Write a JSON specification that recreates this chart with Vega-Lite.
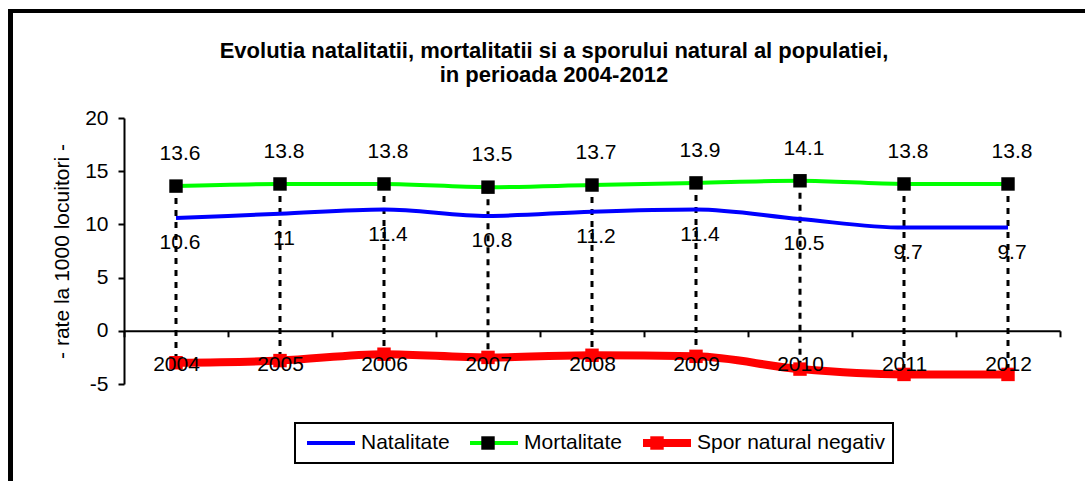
{
  "$schema": "https://vega.github.io/schema/vega-lite/v6.json",
  "width": 936,
  "height": 266,
  "autosize": {"type": "none"},
  "padding": {"left": 124, "top": 118, "right": 25, "bottom": 97},
  "background": "white",
  "title": {
    "text": ["Evolutia natalitatii, mortalitatii si a sporului natural al populatiei,", "in perioada 2004-2012"],
    "fontSize": 22,
    "font": "Liberation Sans",
    "fontWeight": "bold",
    "color": "black",
    "anchor": "middle",
    "frame": "group",
    "dx": -38,
    "offset": -78,
    "lineHeight": 24
  },
  "data": {
    "values": [
      {"year": 2004, "Natalitate": 10.6, "Mortalitate": 13.6, "Spor natural negativ": -3.0},
      {"year": 2005, "Natalitate": 11, "Mortalitate": 13.8, "Spor natural negativ": -2.8},
      {"year": 2006, "Natalitate": 11.4, "Mortalitate": 13.8, "Spor natural negativ": -2.2},
      {"year": 2007, "Natalitate": 10.8, "Mortalitate": 13.5, "Spor natural negativ": -2.5},
      {"year": 2008, "Natalitate": 11.2, "Mortalitate": 13.7, "Spor natural negativ": -2.3},
      {"year": 2009, "Natalitate": 11.4, "Mortalitate": 13.9, "Spor natural negativ": -2.4},
      {"year": 2010, "Natalitate": 10.5, "Mortalitate": 14.1, "Spor natural negativ": -3.6},
      {"year": 2011, "Natalitate": 9.7, "Mortalitate": 13.8, "Spor natural negativ": -4.1},
      {"year": 2012, "Natalitate": 9.7, "Mortalitate": 13.8, "Spor natural negativ": -4.1}
    ]
  },
  "layer": [
    {
      "mark": {"type": "rule", "strokeDash": [6, 6], "strokeWidth": 3, "color": "black"},
      "encoding": {
        "x": {
          "field": "year",
          "type": "quantitative",
          "scale": {"domain": [2003.5, 2012.5], "nice": false, "zero": false},
          "axis": {
            "orient": "bottom",
            "offset": -53.2,
            "values": [2003.5, 2004.5, 2005.5, 2006.5, 2007.5, 2008.5, 2009.5, 2010.5, 2011.5, 2012.5],
            "labelExpr": "datum.value > 2012 ? '' : '' + (datum.value + 0.5)",
            "labelOffset": 52,
            "tickSize": 6,
            "tickWidth": 2,
            "tickColor": "black",
            "domainColor": "black",
            "domainWidth": 2,
            "labelFontSize": 21,
            "labelFont": "Liberation Sans",
            "labelColor": "black",
            "labelPadding": 17,
            "labelOverlap": false,
            "labelFlush": false,
            "labelBound": false,
            "title": null,
            "grid": false,
            "zindex": 1
          }
        },
        "y": {
          "field": "Mortalitate",
          "type": "quantitative",
          "scale": {"domain": [-5, 20], "nice": false, "zero": false},
          "axis": {
            "values": [-5, 0, 5, 10, 15, 20],
            "labelExpr": "'' + datum.value",
            "tickSize": 6,
            "tickWidth": 2,
            "tickColor": "black",
            "domainColor": "black",
            "domainWidth": 2,
            "labelFontSize": 21,
            "labelFont": "Liberation Sans",
            "labelColor": "black",
            "labelPadding": 10,
            "labelOverlap": false,
            "labelFlush": false,
            "grid": false,
            "title": "- rate la 1000 locuitori -",
            "titleFontSize": 21,
            "titleFont": "Liberation Sans",
            "titleFontWeight": "normal",
            "titleColor": "black",
            "titlePadding": 12
          }
        },
        "y2": {"field": "Spor natural negativ"}
      }
    },
    {
      "transform": [{"fold": ["Natalitate", "Mortalitate", "Spor natural negativ"], "as": ["series", "value"]}],
      "mark": {"type": "line", "interpolate": "monotone"},
      "encoding": {
        "x": {"field": "year", "type": "quantitative"},
        "y": {"field": "value", "type": "quantitative"},
        "color": {
          "field": "series",
          "type": "nominal",
          "scale": {"domain": ["Natalitate", "Mortalitate", "Spor natural negativ"], "range": ["#0000ff", "#00ff00", "#ff0000"]},
          "legend": {
            "orient": "none",
            "legendX": 171,
            "legendY": 305,
            "direction": "horizontal",
            "columns": 3,
            "title": null,
            "symbolType": "stroke",
            "symbolSize": 2304,
            "symbolStrokeWidth": 4,
            "clipHeight": 24,
            "labelFontSize": 21,
            "labelFont": "Liberation Sans",
            "labelColor": "black",
            "labelLimit": 400,
            "labelOffset": 2,
            "columnPadding": 16,
            "padding": 8,
            "strokeColor": "black",
            "fillColor": "white",
            "encode": {
              "symbols": {
                "update": {"size": {"value": 2304}, "strokeWidth": {"signal": "datum.label === 'Spor natural negativ' ? 8 : 4"}}
              },
              "legend": {"update": {"strokeWidth": {"value": 2}}}
            }
          }
        },
        "strokeWidth": {
          "field": "series",
          "type": "ordinal",
          "scale": {"type": "ordinal", "domain": ["Natalitate", "Mortalitate", "Spor natural negativ"], "range": [4, 4, 8]},
          "legend": null
        }
      }
    },
    {
      "transform": [{"fold": ["Natalitate", "Mortalitate", "Spor natural negativ"], "as": ["series", "value"]}],
      "mark": {
        "type": "point",
        "shape": "M-0.28,-0.28H0.28V0.28H-0.28Z",
        "size": 2304,
        "opacity": 1,
        "filled": true,
        "stroke": "transparent",
        "strokeWidth": 4
      },
      "encoding": {
        "x": {"field": "year", "type": "quantitative"},
        "y": {"field": "value", "type": "quantitative"},
        "fill": {
          "field": "series",
          "type": "nominal",
          "sort": ["Natalitate", "Mortalitate", "Spor natural negativ"],
          "scale": {"range": ["transparent", "#000000", "#ff0000"]},
          "legend": {
            "orient": "none",
            "legendX": 171,
            "legendY": 305,
            "direction": "horizontal",
            "columns": 3,
            "title": null,
            "symbolType": "M-0.28,-0.28H0.28V0.28H-0.28Z",
            "symbolSize": 2304,
            "symbolStrokeWidth": 4,
            "symbolOpacity": 1,
            "clipHeight": 24,
            "labelFontSize": 21,
            "labelFont": "Liberation Sans",
            "labelOpacity": 0,
            "labelLimit": 400,
            "labelOffset": 2,
            "columnPadding": 16,
            "padding": 8,
            "encode": {
              "symbols": {
                "update": {
                  "size": {"value": 2304},
                  "stroke": {"value": "transparent"}
                }
              }
            }
          }
        }
      }
    },
    {
      "mark": {"type": "text", "fontSize": 21, "font": "Liberation Sans", "dy": -32, "dx": 4, "baseline": "middle", "align": "center", "color": "black"},
      "encoding": {
        "x": {"field": "year", "type": "quantitative"},
        "y": {"field": "Mortalitate", "type": "quantitative"},
        "text": {"field": "Mortalitate", "type": "nominal"}
      }
    },
    {
      "mark": {"type": "text", "fontSize": 21, "font": "Liberation Sans", "dy": 25, "dx": 4, "baseline": "middle", "align": "center", "color": "black"},
      "encoding": {
        "x": {"field": "year", "type": "quantitative"},
        "y": {"field": "Natalitate", "type": "quantitative"},
        "text": {"field": "Natalitate", "type": "nominal"}
      }
    },
    {
      "mark": {"type": "rect", "filled": false, "stroke": "black", "strokeWidth": 4, "clip": false},
      "encoding": {
        "x": {"datum": 2002.41, "type": "quantitative"},
        "x2": {"datum": 2014.5},
        "y": {"datum": 30.06, "type": "quantitative"},
        "y2": {"datum": -20}
      }
    }
  ],
  "config": {
    "font": "Liberation Sans",
    "view": {"stroke": null}
  }
}
